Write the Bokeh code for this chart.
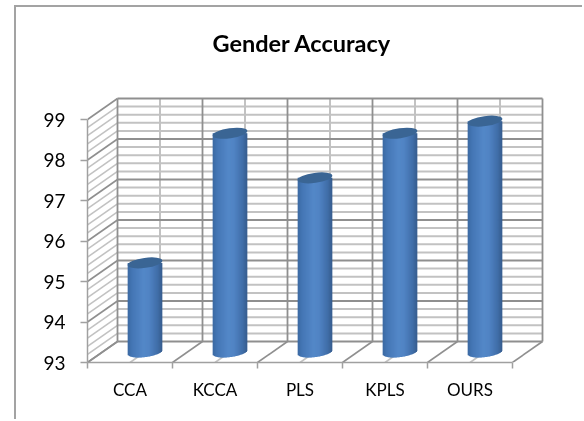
import numpy as np
from bokeh.plotting import figure
from bokeh.models import Range1d, FixedTicker
from bokeh.embed import file_html
from bokeh.resources import INLINE

categories = ["CCA", "KCCA", "PLS", "KPLS", "OURS"]
accuracy = [95.2, 98.4, 97.3, 98.4, 98.7]
y_ticks = [93, 94, 95, 96, 97, 98, 99]
title_text = "Gender Accuracy"

FONT = "Lato"
MAJOR = "#8f8f8f"
MINOR = "#c2c2c2"
# figure host sits at (14,5) on the page and carries the chart-area border (2px)
ORG_X, ORG_Y = 16, 7
W, H = 584 - ORG_X, 421 - ORG_Y
LEFT, RIGHT, TOP, BOTTOM = 87 - ORG_X, 584 - ORG_X, 70 - ORG_Y, 362 - ORG_Y
PX_X, PX_Y = 85.0, 40.5      # px per category / per unit
DEPTH_X, DEPTH_Y = 30 / PX_X, 21 / PX_Y
n = len(categories)
y0, y1 = y_ticks[0], y_ticks[-1]

p = figure(width=W, height=H, output_backend="svg", toolbar_location=None,
           styles={"position": "fixed", "left": "14px", "top": "5px",
                   "border-left": "2px solid #a3a3a3", "border-top": "2px solid #a3a3a3"},
           x_range=Range1d(0, (RIGHT - LEFT) / PX_X),
           y_range=Range1d(y0, y0 + (BOTTOM - TOP) / PX_Y),
           min_border_left=LEFT, min_border_right=W - RIGHT,
           min_border_top=TOP, min_border_bottom=H - BOTTOM)
p.outline_line_color = None
p.grid.visible = False
p.background_fill_color = "white"
p.border_fill_color = "white"

# title
p.title.text = title_text
p.title.text_font = FONT
p.title.text_font_style = "bold"
p.title.text_font_size = "23.5px"
p.title.text_color = "black"
p.title.align = "left"
p.title.offset = 125
p.title.standoff = 27

# axes
ya = p.yaxis[0]
ya.ticker = FixedTicker(ticks=y_ticks)
ya.bounds = (y0, y1)
ya.axis_line_color = "#a0a0a0"; ya.axis_line_width = 1.5
ya.major_tick_line_color = "#a0a0a0"; ya.major_tick_line_width = 1.5
ya.major_tick_out = 7; ya.major_tick_in = 0
ya.minor_tick_line_color = None
ya.major_label_text_font = FONT
ya.major_label_text_font_size = "19px"
ya.major_label_text_color = "black"
ya.major_label_standoff = 15

centres = [i + 0.5 for i in range(n)]
xa = p.xaxis[0]
xa.ticker = FixedTicker(ticks=centres, minor_ticks=list(range(n + 1)))
xa.major_label_overrides = {c: s for c, s in zip(centres, categories)}
xa.bounds = (0, n)
xa.axis_line_color = "#a0a0a0"; xa.axis_line_width = 1.5
xa.major_tick_line_color = None
xa.minor_tick_line_color = "#a0a0a0"; xa.minor_tick_line_width = 1.5
xa.minor_tick_out = 6; xa.minor_tick_in = 0
xa.major_label_text_font = FONT
xa.major_label_text_font_size = "17px"
xa.major_label_text_color = "black"
xa.major_label_standoff = 10

# 3-D box: minor then major lines
minor_levels = [v for v in np.round(np.arange(y0, y1 + 0.01, 0.2), 1) if v not in y_ticks]
back_minor_x = [i + 0.5 + DEPTH_X for i in range(n)]
back_major_x = [i + DEPTH_X for i in range(n + 1)]

p.segment(x0=[DEPTH_X] * len(minor_levels), y0=[v + DEPTH_Y for v in minor_levels],
          x1=[n + DEPTH_X] * len(minor_levels), y1=[v + DEPTH_Y for v in minor_levels],
          line_color=MINOR, line_width=2)
p.segment(x0=[0] * len(minor_levels), y0=minor_levels,
          x1=[DEPTH_X] * len(minor_levels), y1=[v + DEPTH_Y for v in minor_levels],
          line_color=MINOR, line_width=1.6)
p.segment(x0=back_minor_x, y0=[y0 + DEPTH_Y] * n, x1=back_minor_x, y1=[y1 + DEPTH_Y] * n,
          line_color=MINOR, line_width=2)
p.segment(x0=[i + 0.5 for i in range(n)], y0=[y0] * n, x1=back_minor_x, y1=[y0 + DEPTH_Y] * n,
          line_color=MINOR, line_width=1.6)

p.segment(x0=[DEPTH_X] * len(y_ticks), y0=[v + DEPTH_Y for v in y_ticks],
          x1=[n + DEPTH_X] * len(y_ticks), y1=[v + DEPTH_Y for v in y_ticks],
          line_color=MAJOR, line_width=1.8)
p.segment(x0=[0] * len(y_ticks), y0=y_ticks,
          x1=[DEPTH_X] * len(y_ticks), y1=[v + DEPTH_Y for v in y_ticks],
          line_color=MAJOR, line_width=1.6)
p.segment(x0=back_major_x, y0=[y0 + DEPTH_Y] * (n + 1), x1=back_major_x, y1=[y1 + DEPTH_Y] * (n + 1),
          line_color=MAJOR, line_width=1.8)
p.segment(x0=list(range(n + 1)), y0=[y0] * (n + 1), x1=back_major_x, y1=[y0 + DEPTH_Y] * (n + 1),
          line_color=MAJOR, line_width=1.6)

# cylinders
A, B, TILT = 17.5, 5.0, np.radians(8)          # px, ellipse half axes and tilt
t = np.linspace(np.pi, 2 * np.pi, 200)
ex = A * np.cos(t) * np.cos(TILT) - B * np.sin(t) * np.sin(TILT)
ey = A * np.cos(t) * np.sin(TILT) + B * np.sin(t) * np.cos(TILT)
order = np.argsort(ex)
ex, ey = ex[order], ey[order]
half = float(ex.max())
edges = np.linspace(-half, half, 36)
stop_pos = [0.0, 0.12, 0.45, 0.62, 0.85, 1.0]
stop_rgb = np.array([(0x3a, 0x68, 0xa2), (0x44, 0x76, 0xb4), (0x53, 0x87, 0xc8),
                     (0x51, 0x84, 0xc4), (0x41, 0x6f, 0xaa), (0x33, 0x5a, 0x8c)], float)

for i, val in enumerate(accuracy):
    cx = i + 0.5 + DEPTH_X / 2
    base = y0 + DEPTH_Y / 2
    l, r, b, col = [], [], [], []
    for e0, e1 in zip(edges[:-1], edges[1:]):
        mid = (e0 + e1) / 2
        f = (mid + half) / (2 * half)
        c = [int(round(np.interp(f, stop_pos, stop_rgb[:, k]))) for k in range(3)]
        col.append("#%02x%02x%02x" % tuple(c))
        l.append(cx + e0 / PX_X)
        r.append(cx + (e1 + 0.6) / PX_X if e1 < half else cx + e1 / PX_X)
        b.append(base + np.interp(mid, ex, ey) / PX_Y)
    p.quad(left=l, right=r, bottom=b, top=[val + DEPTH_Y / 2] * len(l),
           fill_color=col, line_color=None)
    p.ellipse(x=[cx], y=[val + DEPTH_Y / 2], width=[2 * A], height=[2 * B], angle=[TILT],
              width_units="screen", height_units="screen",
              fill_color="#3a6594", line_color=None)

open("out.html", "w").write(file_html(p, INLINE))
